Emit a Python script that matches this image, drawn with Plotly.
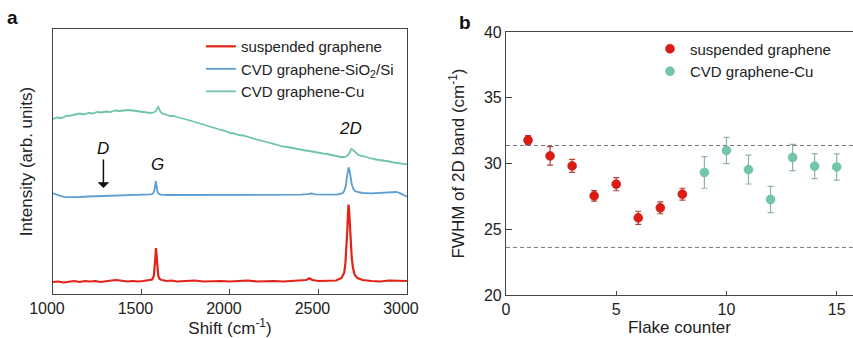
import plotly.graph_objects as go

# ---------------- Panel a: Raman spectra (intensity in arb. units) ----------------
red_x = [1000,1030,1060,1090,1120,1150,1180,1210,1240,1270,1300,1330,1360,1390,1420,1450,1480,1510,1540,
         1560,1570,1575,1578,1582,1586,1590,1595,1602,1615,1640,1670,1700,1750,1800,1850,1900,1950,2000,
         2050,2100,2150,2200,2250,2300,2350,2400,2430,2449,2465,2500,2550,2600,2630,2645,2652,2658,2663,
         2667,2670,2673,2677,2682,2688,2695,2705,2720,2750,2800,2850,2900,2950,3000]
red_y = [12,12.5,11.5,12.5,13,12,13,12.5,13,12,13,13.5,14,13,12.5,13,12.5,13,13.5,
         14.5,18,25,35,46,36,25,18,15,14,13,13.5,12.5,13,13.5,12.5,13,13,12.5,
         13,13.5,12.5,13,13,12.5,13,13.5,14,15.7,14,13,13,13.5,16,21,30,45,64,
         82,89.5,84,68,52,36,26,19,16,14,13,12.5,13.5,13,13]

blue_x = [1000,1020,1040,1060,1080,1100,1150,1200,1250,1300,1350,1400,1450,1500,1550,1565,1572,1577,1581,
          1585,1590,1597,1610,1650,1700,1800,1900,2000,2100,2200,2300,2400,2440,2460,2480,2550,2600,2625,
          2640,2648,2655,2660,2665,2670,2675,2681,2688,2696,2706,2720,2750,2800,2850,2900,2920,2940,2960,
          2980,3000]
blue_y = [100.7,99.5,98,97.2,96.8,96.7,97,97.5,97.8,98,98.5,99,99.3,99.5,99.7,100.5,103,108,113,
          108,102.5,100.3,99.3,99,99,99,99,99,99,99,99,99.3,99.8,100.5,99.6,99.2,99.3,100,
          101.5,104,109,116,124,126.7,124,117,110,105.5,103,102,101,100.7,101.3,102,102.4,102,100.8,
          99,97.3]

green_x = [1000,1025,1050,1075,1100,1125,1150,1175,1200,1225,1250,1275,1300,1325,1350,1375,1400,1425,1450,
           1475,1500,1525,1550,1570,1582,1590,1595,1600,1608,1620,1640,1660,1680,1700,1725,1750,1775,1800,
           1825,1850,1875,1900,1925,1950,1975,2000,2025,2050,2075,2100,2125,2150,2175,2200,2225,2250,2275,
           2300,2325,2350,2375,2400,2425,2450,2475,2500,2525,2550,2575,2600,2625,2645,2660,2672,2680,2686,
           2692,2700,2712,2725,2750,2775,2800,2825,2850,2875,2900,2925,2950,2975,3000]
green_y = [175,176.5,176,178,178.5,179.5,180.5,179.5,181,180.5,182,181.5,182.5,182,183.5,183,183.5,184,183.5,
           183,182.5,181.5,181,181.5,183,186,187,185,182,180,179.5,178,178,177,176,174.5,173.5,172,
           171,169.5,168,166.5,165.5,164,163,161,160.5,159,158.5,157,156,154.5,153.5,152,151,150,148.5,
           147.5,147,146,145,144.5,143.5,143,142,141.5,140.5,140,139,138,137,137,138,140,142.5,145,
           144.5,143,140.5,139,138,136.5,135.5,134.5,134,133,132.5,131.5,131,130,129.7]

series_a_names = ["suspended graphene", "CVD graphene-SiO<sub>2</sub>/Si", "CVD graphene-Cu"]

# ---------------- Panel b: FWHM of 2D band ----------------
susp_counter = [1, 2, 3, 4, 5, 6, 7, 8]
susp_fwhm = [31.77, 30.58, 29.82, 27.54, 28.43, 25.87, 26.63, 27.67]
susp_err = [0.35, 0.7, 0.5, 0.4, 0.5, 0.5, 0.45, 0.45]

cu_counter = [9, 10, 11, 12, 13, 14, 15]
cu_fwhm = [29.32, 30.99, 29.54, 27.26, 30.46, 29.80, 29.74]
cu_err = [1.2, 1.0, 1.1, 1.0, 1.0, 0.95, 1.0]

ref_lines = [31.37, 23.62]

RED = "#e2231a"
BLUE = "#5d9fd3"
GREEN = "#70c5a6"
FONT = "Liberation Sans, Arial, sans-serif"

fig = go.Figure()

fig.add_trace(go.Scatter(x=red_x, y=red_y, mode="lines", name=series_a_names[0],
                         line=dict(color=RED, width=2.2), xaxis="x", yaxis="y", legend="legend"))
fig.add_trace(go.Scatter(x=blue_x, y=blue_y, mode="lines", name=series_a_names[1],
                         line=dict(color=BLUE, width=1.8), xaxis="x", yaxis="y", legend="legend"))
fig.add_trace(go.Scatter(x=green_x, y=green_y, mode="lines", name=series_a_names[2],
                         line=dict(color=GREEN, width=1.8), xaxis="x", yaxis="y", legend="legend"))

fig.add_trace(go.Scatter(x=susp_counter, y=susp_fwhm, mode="markers", name="suspended graphene",
                         marker=dict(color="#dc1c12", size=9, line=dict(color="#c01010", width=0.5)),
                         error_y=dict(type="data", array=susp_err, color="#b8403a", thickness=1.2, width=3),
                         xaxis="x2", yaxis="y2", legend="legend2"))
fig.add_trace(go.Scatter(x=cu_counter, y=cu_fwhm, mode="markers", name="CVD graphene-Cu",
                         marker=dict(color="#72c6a8", size=9, line=dict(color="#66b89a", width=0.5)),
                         error_y=dict(type="data", array=cu_err, color="#8fb3a6", thickness=1.2, width=3),
                         xaxis="x2", yaxis="y2", legend="legend2"))

for v in ref_lines:
    fig.add_shape(type="line", xref="x2 domain", yref="y2", x0=0, x1=1, y0=v, y1=v,
                  line=dict(color="#777777", width=1, dash="4px,3px"))

axis_common = dict(showgrid=False, zeroline=False, showline=True, linecolor="#444444", linewidth=1.2,
                   ticks="inside", tickcolor="#444444", tickfont=dict(size=16, color="#222222"),
                   automargin=False)

fig.update_layout(
    width=853, height=338,
    margin=dict(l=0, r=0, t=0, b=0, autoexpand=False),
    paper_bgcolor="white", plot_bgcolor="white",
    font=dict(family=FONT, size=16, color="#222222"),
    xaxis=dict(domain=[0.0621, 0.4771], range=[1000, 3000], tickvals=[1000, 1500, 2000, 2500, 3000],
               ticklen=5, mirror=True, anchor="y", ticklabelshift=-6,
               title=dict(text="Shift (cm<sup>-1</sup>)", font=dict(size=17), standoff=4), **axis_common),
    yaxis=dict(domain=[0.1302, 0.9142], range=[0, 265], showticklabels=False, ticks="",
               showgrid=False, zeroline=False, showline=True, linecolor="#444444", linewidth=1.2,
               mirror=True, anchor="x", automargin=False,
               title=dict(text="Intensity (arb. units)", font=dict(size=17), standoff=14)),
    xaxis2=dict(domain=[0.5932, 1.0], range=[0, 15.74], tickvals=[0, 5, 10, 15], ticklen=4,
                mirror=True, anchor="y2",
                title=dict(text="Flake counter", font=dict(size=17), standoff=2), **axis_common),
    yaxis2=dict(domain=[0.1272, 0.9053], range=[20, 40], tickvals=[20, 25, 30, 35, 40], ticklen=6,
                anchor="x2",
                title=dict(text="FWHM of 2D band (cm<sup>-1</sup>)", font=dict(size=17), standoff=14),
                **axis_common),
    legend=dict(x=0.2355, y=0.911, xanchor="left", yanchor="top", bgcolor="rgba(0,0,0,0)",
                font=dict(size=15), tracegroupgap=0, itemwidth=30),
    legend2=dict(x=0.762, y=0.904, xanchor="left", yanchor="top", bgcolor="rgba(0,0,0,0)",
                 font=dict(size=15), tracegroupgap=0),
    showlegend=True,
)

# Peak labels and the D arrow (panel a)
fig.add_annotation(x=1285, y=106, ax=1285, ay=136, xref="x", yref="y", axref="x", ayref="y",
                   text="", showarrow=True, arrowhead=1, arrowsize=1.3, arrowwidth=1.5, arrowcolor="#111111")
fig.add_annotation(x=1280, y=146, xref="x", yref="y", text="<i>D</i>", showarrow=False,
                   font=dict(size=17, color="#111111"))
fig.add_annotation(x=1590, y=130, xref="x", yref="y", text="<i>G</i>", showarrow=False,
                   font=dict(size=17, color="#111111"))
fig.add_annotation(x=2680, y=166, xref="x", yref="y", text="<i>2D</i>", showarrow=False,
                   font=dict(size=17, color="#111111"))

# Panel letters
fig.add_annotation(x=12 / 853, y=1 - 17 / 338, xref="paper", yref="paper", text="<b>a</b>",
                   xanchor="center", yanchor="middle", showarrow=False, font=dict(size=19, color="#111111"))
fig.add_annotation(x=465 / 853, y=1 - 22 / 338, xref="paper", yref="paper", text="<b>b</b>",
                   xanchor="center", yanchor="middle", showarrow=False, font=dict(size=19, color="#111111"))

fig.write_html("out.html", config={"displayModeBar": False},
               post_script="document.body.style.margin='0px';document.body.style.overflow='hidden';")
